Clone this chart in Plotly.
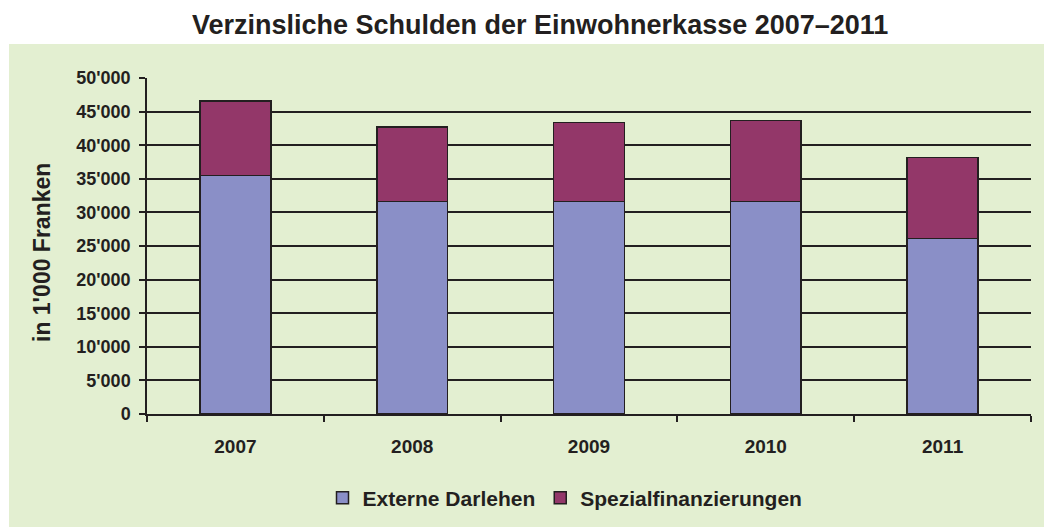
import plotly.graph_objects as go

years = ["2007", "2008", "2009", "2010", "2011"]
externe = [35500, 31600, 31600, 31600, 26100]
spezial = [11100, 11100, 11800, 12100, 12100]
ytick_vals = [0, 5000, 10000, 15000, 20000, 25000, 30000, 35000, 40000, 45000, 50000]
ytick_text = ["0", "5'000", "10'000", "15'000", "20'000", "25'000", "30'000",
              "35'000", "40'000", "45'000", "50'000"]

OFF = 8  # page body margin
W, H = 1052 - OFF, 527 - OFF
L, R, T, B = 147 - OFF, 1031 - OFF, 78 - OFF, 414 - OFF
pw, ph = R - L, B - T

def px_x(x):
    return (x - OFF - L) / pw

def px_y(y):
    return (B - (y - OFF)) / ph

DARK = "#231F20"
font_bold = "Liberation Sans, Arial, sans-serif"

fig = go.Figure()
fig.add_trace(go.Bar(x=years, y=externe, name="Externe Darlehen",
                     marker=dict(color="#8A8FC7", line=dict(color=DARK, width=1.5))))
fig.add_trace(go.Bar(x=years, y=spezial, name="Spezialfinanzierungen",
                     marker=dict(color="#933769", line=dict(color=DARK, width=1.5))))

fig.update_layout(
    width=W, height=H,
    barmode="stack", bargap=0.6,
    paper_bgcolor="white", plot_bgcolor="rgba(0,0,0,0)",
    margin=dict(l=L, r=W - R, t=T, b=H - B, pad=0, autoexpand=False),
    showlegend=True,
    legend=dict(orientation="h", x=px_x(565), xanchor="center", y=px_y(498), yanchor="middle",
                font=dict(family=font_bold, size=21, color=DARK, weight="bold"),
                bgcolor="rgba(0,0,0,0)", traceorder="normal", itemwidth=30),
    font=dict(family=font_bold, color=DARK),
    shapes=[dict(type="rect", xref="paper", yref="paper",
                 x0=px_x(9), x1=px_x(1070), y0=px_y(540), y1=px_y(44),
                 fillcolor="#E3EFD1", line=dict(width=0), layer="below")],
    annotations=[
        dict(text="Verzinsliche Schulden der Einwohnerkasse 2007–2011", xref="paper", yref="paper",
             x=px_x(540), y=px_y(25), xanchor="center", yanchor="middle", showarrow=False,
             font=dict(family="Liberation Sans Narrow, Arial Narrow, Liberation Sans, sans-serif",
                       size=27, color=DARK, weight="bold")),
        dict(text="in 1'000 Franken", xref="paper", yref="paper",
             x=px_x(42), y=px_y(253), xanchor="center", yanchor="middle", showarrow=False,
             textangle=-90,
             font=dict(family=font_bold, size=23, color=DARK, weight="bold")),
    ],
)

fig.update_xaxes(type="category", showline=True, linecolor=DARK, linewidth=1.5,
                 ticks="outside", tickson="boundaries", ticklen=6, tickwidth=1.5, tickcolor=DARK,
                 showgrid=False, ticklabelstandoff=14,
                 tickfont=dict(family=font_bold, size=19, color=DARK, weight="bold"))
fig.update_yaxes(range=[0, 50000], tickvals=ytick_vals, ticktext=ytick_text,
                 showline=True, linecolor=DARK, linewidth=1.5,
                 ticks="outside", ticklen=6, tickwidth=1.5, tickcolor=DARK,
                 showgrid=True, gridcolor=DARK, gridwidth=1.5, zeroline=False,
                 ticklabelstandoff=5,
                 tickfont=dict(family=font_bold, size=18, color=DARK, weight="bold"))

fig.write_html("out.html")
